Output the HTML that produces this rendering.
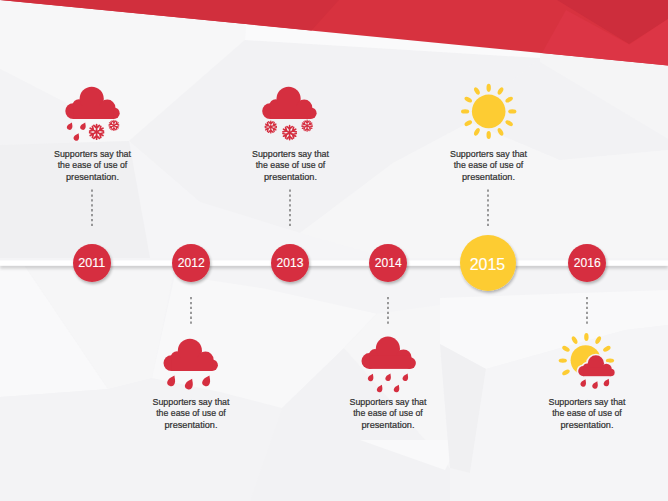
<!DOCTYPE html>
<html><head><meta charset="utf-8"><style>
html,body{margin:0;padding:0;background:#f2f2f4;}
body{width:668px;height:501px;overflow:hidden;position:relative;}
svg{position:absolute;left:0;top:0;display:block;}
text{font-family:"Liberation Sans",sans-serif;}
</style></head><body>
<svg width="668" height="501" viewBox="0 0 668 501">
<defs>
  <filter id="sh" x="-30%" y="-30%" width="160%" height="170%">
    <feGaussianBlur in="SourceAlpha" stdDeviation="1.6"/>
    <feOffset dx="1.2" dy="2" result="b"/>
    <feComponentTransfer><feFuncA type="linear" slope="0.28"/></feComponentTransfer>
    <feMerge><feMergeNode/><feMergeNode in="SourceGraphic"/></feMerge>
  </filter>
  <filter id="lsh" x="-5%" y="-100%" width="110%" height="400%">
    <feGaussianBlur in="SourceAlpha" stdDeviation="1.6"/>
    <feOffset dx="0" dy="3.2"/>
    <feComponentTransfer><feFuncA type="linear" slope="0.16"/></feComponentTransfer>
    <feMerge><feMergeNode/><feMergeNode in="SourceGraphic"/></feMerge>
  </filter>
  <g id="cloud">
    <circle cx="-19.4" cy="-7.9" r="7.9"/>
    <circle cx="-13.8" cy="-13.5" r="6.3"/>
    <circle cx="-0.9" cy="-20.2" r="12.1"/>
    <circle cx="14.7" cy="-11.3" r="8.1"/>
    <circle cx="21.3" cy="-5.8" r="5.8"/>
    <rect x="-19.4" y="-13" width="40.7" height="13"/>
  </g>
  <path id="drop" d="M0,-7.6 C-1.2,-5.4 -3.8,-3.2 -3.8,0 A3.8,3.8 0 0 0 3.8,0 C3.8,-3.2 1.2,-5.4 0,-7.6Z"/>
  <g id="flake" stroke-linecap="round" fill="none">
    <g id="arm"><path d="M0,0 L0,-6.4 M-2.4,-5.6 L0,-3.2 L2.4,-5.6"/></g>
    <use href="#arm" transform="rotate(60)"/>
    <use href="#arm" transform="rotate(120)"/>
    <use href="#arm" transform="rotate(180)"/>
    <use href="#arm" transform="rotate(240)"/>
    <use href="#arm" transform="rotate(300)"/>
  </g>
  <ellipse id="ray" cx="0" cy="-23.6" rx="2.2" ry="4.1"/>
  <g id="rays">
    <use href="#ray"/>
    <use href="#ray" transform="rotate(30)"/>
    <use href="#ray" transform="rotate(60)"/>
    <use href="#ray" transform="rotate(90)"/>
    <use href="#ray" transform="rotate(120)"/>
    <use href="#ray" transform="rotate(150)"/>
    <use href="#ray" transform="rotate(180)"/>
    <use href="#ray" transform="rotate(210)"/>
    <use href="#ray" transform="rotate(240)"/>
    <use href="#ray" transform="rotate(270)"/>
    <use href="#ray" transform="rotate(300)"/>
    <use href="#ray" transform="rotate(330)"/>
  </g>
</defs>

<!-- background facets -->
<rect width="668" height="501" fill="#f4f4f6"/>
<g id="bgfacets">
  <polygon points="0,0 246,24 245,40 129,141 0,145" fill="#f7f7f8"/>
  <polygon points="0,68.7 66,102.7 80,144 0,145" fill="#f3f3f5"/>
  <polygon points="245,40 540,58 503,88 470,122 393,163 300,233 200,202 129,141" fill="#f2f2f4"/>
  <polygon points="129,141 200,202 300,233 388,258 150,258" fill="#f5f5f7"/>
  <polygon points="0,145 129,141 150,258 0,258" fill="#f0f0f2"/>
  <polygon points="246,24 540,52.9 540,58 245,40" fill="#fafafb"/>
  <polygon points="540,52.9 668,65.5 668,139 540,62" fill="#f5f5f6"/>
  <polygon points="393,163 470,122 560,160 560,258 388,258 300,233" fill="#f6f6f7"/>
  <polygon points="503,88 540,58 540,62 668,139 668,150 560,160 470,122" fill="#f2f2f4"/>
  <polygon points="560,160 668,150 668,258 560,258" fill="#f6f6f7"/>
  <polygon points="0,266 25,266 108,389 0,397" fill="#f9f9fa"/>
  <polygon points="25,266 175,266 152,378 108,389" fill="#f6f6f7"/>
  <polygon points="0,397 108,389 152,378 220,392 282,408 250,501 0,501" fill="#f3f3f5"/>
  <polygon points="175,275 263.8,288.4 376.6,313.8 344,348 282,408 220,392 152,378" fill="#f8f8f9"/>
  <polygon points="282,408 344,348 450,468 450,501 250,501" fill="#f2f2f4"/>
  <polygon points="376.6,313.8 440,305 440,344 450,468 344,348" fill="#f6f6f7"/>
  <polygon points="360,440 460,440 445,470" fill="#f9f9fa"/>
  <polygon points="440,298 668,290 668,325 625,330 486,369 440,344" fill="#f9f9fa"/>
  <polygon points="440,344 486,369 470,473 450,468" fill="#f0f0f2"/>
  <polygon points="486,369 625,330 668,325 668,501 470,501 470,473" fill="#f5f5f7"/>
</g>

<!-- red band -->
<polygon points="0,0 668,0 668,65.5" fill="#d7323f"/>
<polygon points="0,0 339,0 311.5,30.5" fill="#d12f3d"/>
<polygon points="557,0 668,0 668,19 629,44" fill="#cd2d3c"/>
<polygon points="566,10 629.4,44.4 668,19 668,65.5 542,53.1" fill="#dc3545"/>


<!-- timeline line -->
<rect x="0" y="260.5" width="668" height="5.2" fill="#ffffff" filter="url(#lsh)"/>

<!-- dotted connectors -->
<g stroke="#555" stroke-width="1.15" stroke-dasharray="2.3 2.6">
  <line x1="92" y1="189.5" x2="92" y2="226.5"/>
  <line x1="290" y1="189.5" x2="290" y2="226.5"/>
  <line x1="488" y1="189.5" x2="488" y2="226.5"/>
  <line x1="191" y1="297" x2="191" y2="324.5"/>
  <line x1="388" y1="297" x2="388" y2="324.5"/>
  <line x1="587" y1="297" x2="587" y2="324.5"/>
</g>

<!-- circles -->
<g filter="url(#sh)">
  <circle cx="92" cy="263" r="19" fill="#d62e40"/>
  <circle cx="191" cy="263" r="19" fill="#d62e40"/>
  <circle cx="290" cy="263" r="19" fill="#d62e40"/>
  <circle cx="388" cy="263" r="19" fill="#d62e40"/>
  <circle cx="488" cy="263" r="28" fill="#fdcc33"/>
  <circle cx="587" cy="263" r="19" fill="#d62e40"/>
</g>
<g fill="#ffffff" stroke="#ffffff" stroke-width="0.12" font-size="12" text-anchor="middle">
  <text x="91.8" y="266.7" textLength="27" lengthAdjust="spacingAndGlyphs">2011</text>
  <text x="191.2" y="266.7" textLength="27" lengthAdjust="spacingAndGlyphs">2012</text>
  <text x="290" y="266.7" textLength="27" lengthAdjust="spacingAndGlyphs">2013</text>
  <text x="388.3" y="266.7" textLength="27" lengthAdjust="spacingAndGlyphs">2014</text>
  <text x="487.5" y="269.5" font-size="17" textLength="35.5" lengthAdjust="spacingAndGlyphs">2015</text>
  <text x="587.3" y="266.7" textLength="27" lengthAdjust="spacingAndGlyphs">2016</text>
</g>

<!-- icons -->
<g fill="#d52f40">
  <!-- 2011 -->
  <use href="#cloud" x="92.6" y="119"/>
  <use href="#drop" transform="translate(69.6,127.2) rotate(26) scale(0.7)"/>
  <use href="#drop" transform="translate(82.9,127.2) rotate(26) scale(0.7)"/>
  <use href="#drop" transform="translate(76.3,138) rotate(26) scale(0.7)"/>
  <!-- 2012 -->
  <use href="#cloud" x="190.8" y="371"/>
  <use href="#drop" transform="translate(171.1,382.4) rotate(26)"/>
  <use href="#drop" transform="translate(188.8,385.6) rotate(26)"/>
  <use href="#drop" transform="translate(206.1,382.4) rotate(26)"/>
  <!-- 2013 -->
  <use href="#cloud" x="289.5" y="119"/>
  <!-- 2014 -->
  <use href="#cloud" x="388.8" y="368.9"/>
  <use href="#drop" transform="translate(370.6,378.5) rotate(26) scale(0.7)"/>
  <use href="#drop" transform="translate(388.1,378.3) rotate(26) scale(0.7)"/>
  <use href="#drop" transform="translate(405.3,378.3) rotate(26) scale(0.7)"/>
  <use href="#drop" transform="translate(379.6,389.6) rotate(26) scale(0.7)"/>
  <use href="#drop" transform="translate(396.5,389.6) rotate(26) scale(0.7)"/>
</g>
<g stroke="#d52f40" stroke-width="1.5">
  <use href="#flake" transform="translate(96.6,131.9) scale(1.15)"/>
  <use href="#flake" transform="translate(113.9,125.4) scale(0.8)"/>
  <use href="#flake" transform="translate(270.8,127) scale(0.92)"/>
  <use href="#flake" transform="translate(289.6,132.7) scale(1.1)"/>
  <use href="#flake" transform="translate(307.1,125.7) scale(0.85)"/>
</g>

<!-- 2015 sun -->
<g fill="#fdcc33">
  <circle cx="488.7" cy="111.4" r="16.8"/>
  <use href="#rays" transform="translate(488.7,111.4)"/>
</g>

<!-- 2016 sun + cloud -->
<g fill="#fdcc33" transform="translate(586.4,360.6)">
  <circle cx="-0.8" cy="-0.4" r="15"/>
  <use href="#ray"/>
  <use href="#ray" transform="rotate(30)"/>
  <use href="#ray" transform="rotate(60)"/>
  <use href="#ray" transform="rotate(90)"/>
  <use href="#ray" transform="rotate(240)"/>
  <use href="#ray" transform="rotate(270)"/>
  <use href="#ray" transform="rotate(300)"/>
  <use href="#ray" transform="rotate(330)"/>
</g>
<g transform="translate(596.5,376.2) scale(0.67,0.645)">
  <use href="#cloud" fill="none" stroke="#f4f4f6" stroke-width="5"/>
  <use href="#cloud" fill="#d52f40"/>
</g>
<g fill="#d52f40">
  <use href="#drop" transform="translate(583.2,384) rotate(26) scale(0.7)"/>
  <use href="#drop" transform="translate(595,386) rotate(26) scale(0.7)"/>
  <use href="#drop" transform="translate(606.4,383.6) rotate(26) scale(0.7)"/>
</g>

<!-- texts -->
<g fill="#303030" stroke="#303030" stroke-width="0.22" font-size="9.8" text-anchor="middle">
  <g id="t2011">
    <text x="92.5" y="156.8" textLength="77" lengthAdjust="spacingAndGlyphs">Supporters say that</text>
    <text x="92.5" y="168.4" textLength="69.6" lengthAdjust="spacingAndGlyphs">the ease of use of</text>
    <text x="92.5" y="180.2" textLength="53" lengthAdjust="spacingAndGlyphs">presentation.</text>
  </g>
  <use href="#t2011" x="198"/>
  <use href="#t2011" x="396"/>
  <g id="t2012">
    <text x="191" y="404.5" textLength="77" lengthAdjust="spacingAndGlyphs">Supporters say that</text>
    <text x="191" y="416" textLength="69.6" lengthAdjust="spacingAndGlyphs">the ease of use of</text>
    <text x="191" y="427.8" textLength="53" lengthAdjust="spacingAndGlyphs">presentation.</text>
  </g>
  <use href="#t2012" x="197"/>
  <use href="#t2012" x="396"/>
</g>
</svg>
</body></html>
